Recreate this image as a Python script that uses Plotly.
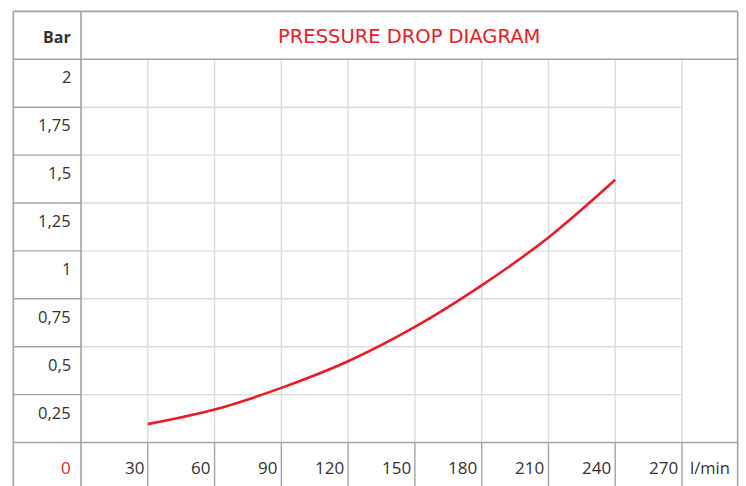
import plotly.graph_objects as go

# Pressure drop curve (flow in l/min, pressure drop in bar)
flow = [30, 60, 90, 120, 150, 180, 210, 240]
pressure_drop = [0.096, 0.172, 0.285, 0.424, 0.603, 0.82, 1.07, 1.371]

# Table axis labels
x_ticks = [30, 60, 90, 120, 150, 180, 210, 240, 270]
y_ticks = [0.25, 0.5, 0.75, 1.0, 1.25, 1.5, 1.75, 2.0]
y_tick_labels = ["0,25", "0,5", "0,75", "1", "1,25", "1,5", "1,75", "2"]

title_text = "PRESSURE DROP DIAGRAM"
y_unit = "Bar"
x_unit = "l/min"
origin_label = "0"

RED = "#ed1c24"
TEXT = "#333333"
DARK = "#a3a3a3"
LIGHT = "#dcdcdc"
FONT = "Open Sans"
TITLE_FONT = "DejaVu Sans"

# table frame in data units
LEFT = -30.4          # outer edge of the label column
RIGHT = 295.0         # outer right edge
TOP = 2.25            # top of the header row
BOTTOM = -0.35        # bottom row runs off the page
X_LAST = x_ticks[-1]
Y_LAST = y_ticks[-1]

fig = go.Figure()

fig.add_trace(go.Scatter(
    x=flow, y=pressure_drop, mode="lines",
    line=dict(color=RED, width=2.6, shape="spline", smoothing=1.0),
    hoverinfo="skip", showlegend=False,
))

shapes = []


def seg(x0, y0, x1, y1, color, width):
    shapes.append(dict(type="line", xref="x", yref="y", x0=x0, y0=y0, x1=x1, y1=y1,
                       line=dict(color=color, width=width), layer="below"))


# light inner grid of the data area
for xv in x_ticks:
    seg(xv, 0, xv, Y_LAST, LIGHT, 1.4)
for yv in y_ticks[:-1]:
    seg(0, yv, X_LAST, yv, LIGHT, 1.4)

# darker row lines inside the label column
for yv in y_ticks[:-1]:
    seg(LEFT, yv, 0, yv, DARK, 1.4)

# darker vertical separators in the bottom row
for xv in x_ticks:
    seg(xv, BOTTOM, xv, 0, DARK, 1.4)

# outer frame and main separators
seg(LEFT, TOP, RIGHT, TOP, DARK, 1.6)
seg(LEFT, TOP, LEFT, BOTTOM, DARK, 1.6)
seg(RIGHT, TOP, RIGHT, BOTTOM, DARK, 1.6)
seg(0, TOP, 0, BOTTOM, DARK, 1.6)
seg(LEFT, Y_LAST, RIGHT, Y_LAST, DARK, 1.6)
seg(LEFT, 0, RIGHT, 0, DARK, 1.6)

annotations = []
LABEL_X = -3.8        # right edge of label column text
ROW_OFFSET = 0.091    # label sits a little above the row centre

for yv, txt in zip(y_ticks, y_tick_labels):
    annotations.append(dict(x=LABEL_X, y=yv - ROW_OFFSET, text=txt, showarrow=False,
                            xanchor="right", yanchor="middle",
                            font=dict(family=FONT, size=16.5, color=TEXT)))

for xv in x_ticks:
    annotations.append(dict(x=xv - 1.0, y=-0.128, text=str(xv), showarrow=False,
                            xanchor="right", yanchor="middle",
                            font=dict(family=FONT, size=17, color=TEXT)))

annotations.append(dict(x=LABEL_X, y=-0.128, text=origin_label, showarrow=False,
                        xanchor="right", yanchor="middle",
                        font=dict(family=FONT, size=17, color=RED)))
annotations.append(dict(x=(X_LAST + RIGHT) / 2, y=-0.128, text=x_unit, showarrow=False,
                        xanchor="center", yanchor="middle",
                        font=dict(family=FONT, size=16.5, color=TEXT)))
annotations.append(dict(x=LABEL_X, y=(Y_LAST + TOP) / 2 - 0.008, text="<b>" + y_unit + "</b>",
                        showarrow=False, xanchor="right", yanchor="middle",
                        font=dict(family=FONT, size=16, color=TEXT)))
annotations.append(dict(x=(0 + RIGHT) / 2, y=(Y_LAST + TOP) / 2 - 0.005, text=title_text,
                        showarrow=False, xanchor="center", yanchor="middle",
                        font=dict(family=TITLE_FONT, size=19.5, color=RED)))

fig.update_layout(
    width=746, height=486,
    margin=dict(l=0, r=0, t=0, b=0),
    paper_bgcolor="white", plot_bgcolor="white",
    shapes=shapes, annotations=annotations,
    xaxis=dict(range=[-36.39, 298.75], visible=False, fixedrange=True),
    yaxis=dict(range=[-0.227, 2.3095], visible=False, fixedrange=True),
    showlegend=False,
)

fig.write_html("out.html")
